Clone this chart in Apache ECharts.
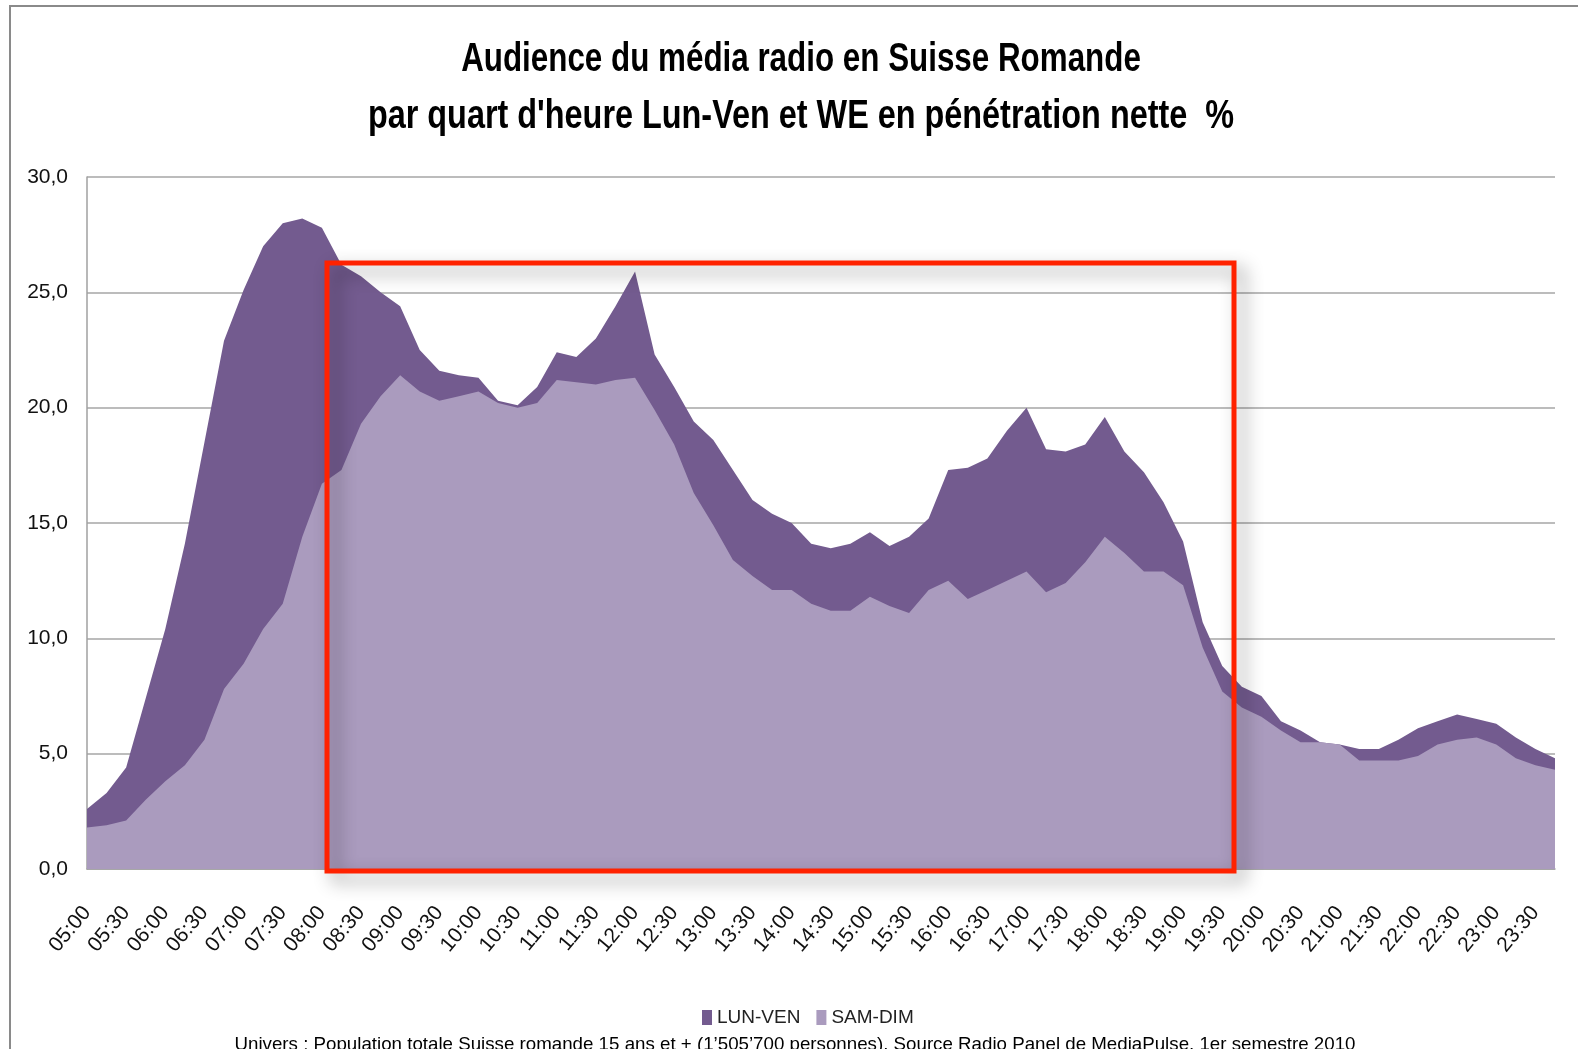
<!DOCTYPE html>
<html>
<head>
<meta charset="utf-8">
<title>Audience du média radio en Suisse Romande</title>
<script src="https://cdn.jsdelivr.net/npm/echarts@6/dist/echarts.min.js"></script>
<style>
  html, body { margin: 0; padding: 0; background: #fff; }
  #chart { width: 1578px; height: 1049px; }
</style>
</head>
<body>
<div id="chart"></div>
<script>
// quarts d'heure 05:00 -> 23:45
const categories = [
  '05:00', '05:15', '05:30', '05:45', '06:00', '06:15', '06:30', '06:45',
  '07:00', '07:15', '07:30', '07:45', '08:00', '08:15', '08:30', '08:45',
  '09:00', '09:15', '09:30', '09:45', '10:00', '10:15', '10:30', '10:45',
  '11:00', '11:15', '11:30', '11:45', '12:00', '12:15', '12:30', '12:45',
  '13:00', '13:15', '13:30', '13:45', '14:00', '14:15', '14:30', '14:45',
  '15:00', '15:15', '15:30', '15:45', '16:00', '16:15', '16:30', '16:45',
  '17:00', '17:15', '17:30', '17:45', '18:00', '18:15', '18:30', '18:45',
  '19:00', '19:15', '19:30', '19:45', '20:00', '20:15', '20:30', '20:45',
  '21:00', '21:15', '21:30', '21:45', '22:00', '22:15', '22:30', '22:45',
  '23:00', '23:15', '23:30', '23:45'
];

// LUN-VEN, pénétration nette %
const lunVen = [
  2.6, 3.3, 4.4, 7.4, 10.4, 14.1, 18.5, 22.9,
  25.1, 27.0, 28.0, 28.2, 27.8, 26.2, 25.7, 25.0,
  24.4, 22.5, 21.6, 21.4, 21.3, 20.3, 20.1, 20.9,
  22.4, 22.2, 23.0, 24.4, 25.9, 22.3, 20.9, 19.4,
  18.6, 17.3, 16.0, 15.4, 15.0, 14.1, 13.9, 14.1,
  14.6, 14.0, 14.4, 15.2, 17.3, 17.4, 17.8, 19.0,
  20.0, 18.2, 18.1, 18.4, 19.6, 18.1, 17.2, 15.9,
  14.2, 10.7, 8.8, 7.9, 7.5, 6.4, 6.0, 5.5,
  5.4, 5.2, 5.2, 5.6, 6.1, 6.4, 6.7, 6.5,
  6.3, 5.7, 5.2, 4.8
];

// SAM-DIM, pénétration nette %
const samDim = [
  1.8, 1.9, 2.1, 3.0, 3.8, 4.5, 5.6, 7.8,
  8.9, 10.4, 11.5, 14.4, 16.7, 17.3, 19.3, 20.5,
  21.4, 20.7, 20.3, 20.5, 20.7, 20.2, 20.0, 20.2,
  21.2, 21.1, 21.0, 21.2, 21.3, 19.9, 18.4, 16.3,
  14.9, 13.4, 12.7, 12.1, 12.1, 11.5, 11.2, 11.2,
  11.8, 11.4, 11.1, 12.1, 12.5, 11.7, 12.1, 12.5,
  12.9, 12.0, 12.4, 13.3, 14.4, 13.7, 12.9, 12.9,
  12.3, 9.6, 7.7, 7.0, 6.6, 6.0, 5.5, 5.5,
  5.4, 4.7, 4.7, 4.7, 4.9, 5.4, 5.6, 5.7,
  5.4, 4.8, 4.5, 4.3
];

const yMin = 0;
const yMax = 30;
const yStep = 5;

const sans = '"Liberation Sans", Arial, sans-serif';

const myChart = echarts.init(document.getElementById('chart'));

// texte centré, compressé horizontalement (police étroite type Calibri)
function narrowText(text, x, y, size, weight, scaleX) {
  return {
    type: 'text',
    silent: true,
    x: x,
    y: y,
    scaleX: scaleX,
    style: {
      text: text,
      x: 0,
      y: 0,
      font: weight + ' ' + size + 'px ' + sans,
      fill: '#000',
      textAlign: 'center',
      textVerticalAlign: 'middle',
      align: 'center',
      verticalAlign: 'middle',
    },
  };
}

const option = {
  backgroundColor: '#fff',
  animation: false,
  grid: {
    left: 87,
    right: 23,
    top: 177,
    bottom: 180,
  },
  legend: {
    data: ['LUN-VEN', 'SAM-DIM'],
    left: 697,
    top: 1003,
    icon: 'rect',
    itemWidth: 10,
    itemHeight: 15,
    itemGap: 16,
    textStyle: {
      fontFamily: sans,
      fontSize: 19,
      color: '#222',
    },
  },
  xAxis: {
    type: 'category',
    boundaryGap: false,
    data: categories,
    axisLine: {
      lineStyle: { color: '#a0a0a0', width: 1.5 },
    },
    axisTick: { show: false },
    axisLabel: {
      interval: 1,
      rotate: 50,
      margin: 40,
      fontFamily: sans,
      fontSize: 21,
      color: '#111',
    },
    splitLine: { show: false },
  },
  yAxis: {
    type: 'value',
    min: yMin,
    max: yMax,
    interval: yStep,
    axisLine: {
      show: true,
      lineStyle: { color: '#a0a0a0', width: 1.5 },
    },
    axisTick: { show: false },
    axisLabel: {
      margin: 19,
      fontFamily: sans,
      fontSize: 21,
      color: '#111',
      formatter: function (value) {
        return value.toFixed(1).replace('.', ',');
      },
    },
    splitLine: {
      lineStyle: { color: '#a6a6a6', width: 1.5 },
    },
  },
  series: [
    {
      name: 'LUN-VEN',
      type: 'line',
      data: lunVen,
      symbol: 'none',
      lineStyle: { width: 0 },
      itemStyle: { color: '#735B8F' },
      areaStyle: { color: '#735B8F', opacity: 1 },
    },
    {
      name: 'SAM-DIM',
      type: 'line',
      data: samDim,
      symbol: 'none',
      lineStyle: { width: 0 },
      itemStyle: { color: '#AA9BBE' },
      areaStyle: { color: '#AA9BBE', opacity: 1 },
    },
  ],
  graphic: [
    {
      // cadre du graphique
      type: 'rect',
      silent: true,
      shape: { x: 10, y: 6, width: 1600, height: 1100 },
      style: { fill: 'none', stroke: '#8a8a8a', lineWidth: 2 },
      z: 1,
    },
    narrowText('Audience du média radio en Suisse Romande', 801, 60, 41, 'bold', 0.765),
    narrowText("par quart d'heure Lun-Ven et WE en pénétration nette  %", 801, 117, 41, 'bold', 0.79),
    narrowText('Univers : Population totale Suisse romande 15 ans et + (1’505’700 personnes). Source Radio Panel de MediaPulse, 1er semestre 2010',
      795, 1045, 19, 'normal', 0.985),
    {
      // cadre rouge d'annotation avec ombre portée
      type: 'rect',
      silent: true,
      shape: { x: 327, y: 263, width: 907, height: 608 },
      style: {
        fill: 'none',
        stroke: '#FF2200',
        lineWidth: 5,
        shadowBlur: 18,
        shadowOffsetX: 8,
        shadowOffsetY: 8,
        shadowColor: 'rgba(0, 0, 0, 0.45)',
      },
      z: 100,
    },
  ],
};

myChart.setOption(option);
</script>
</body>
</html>
